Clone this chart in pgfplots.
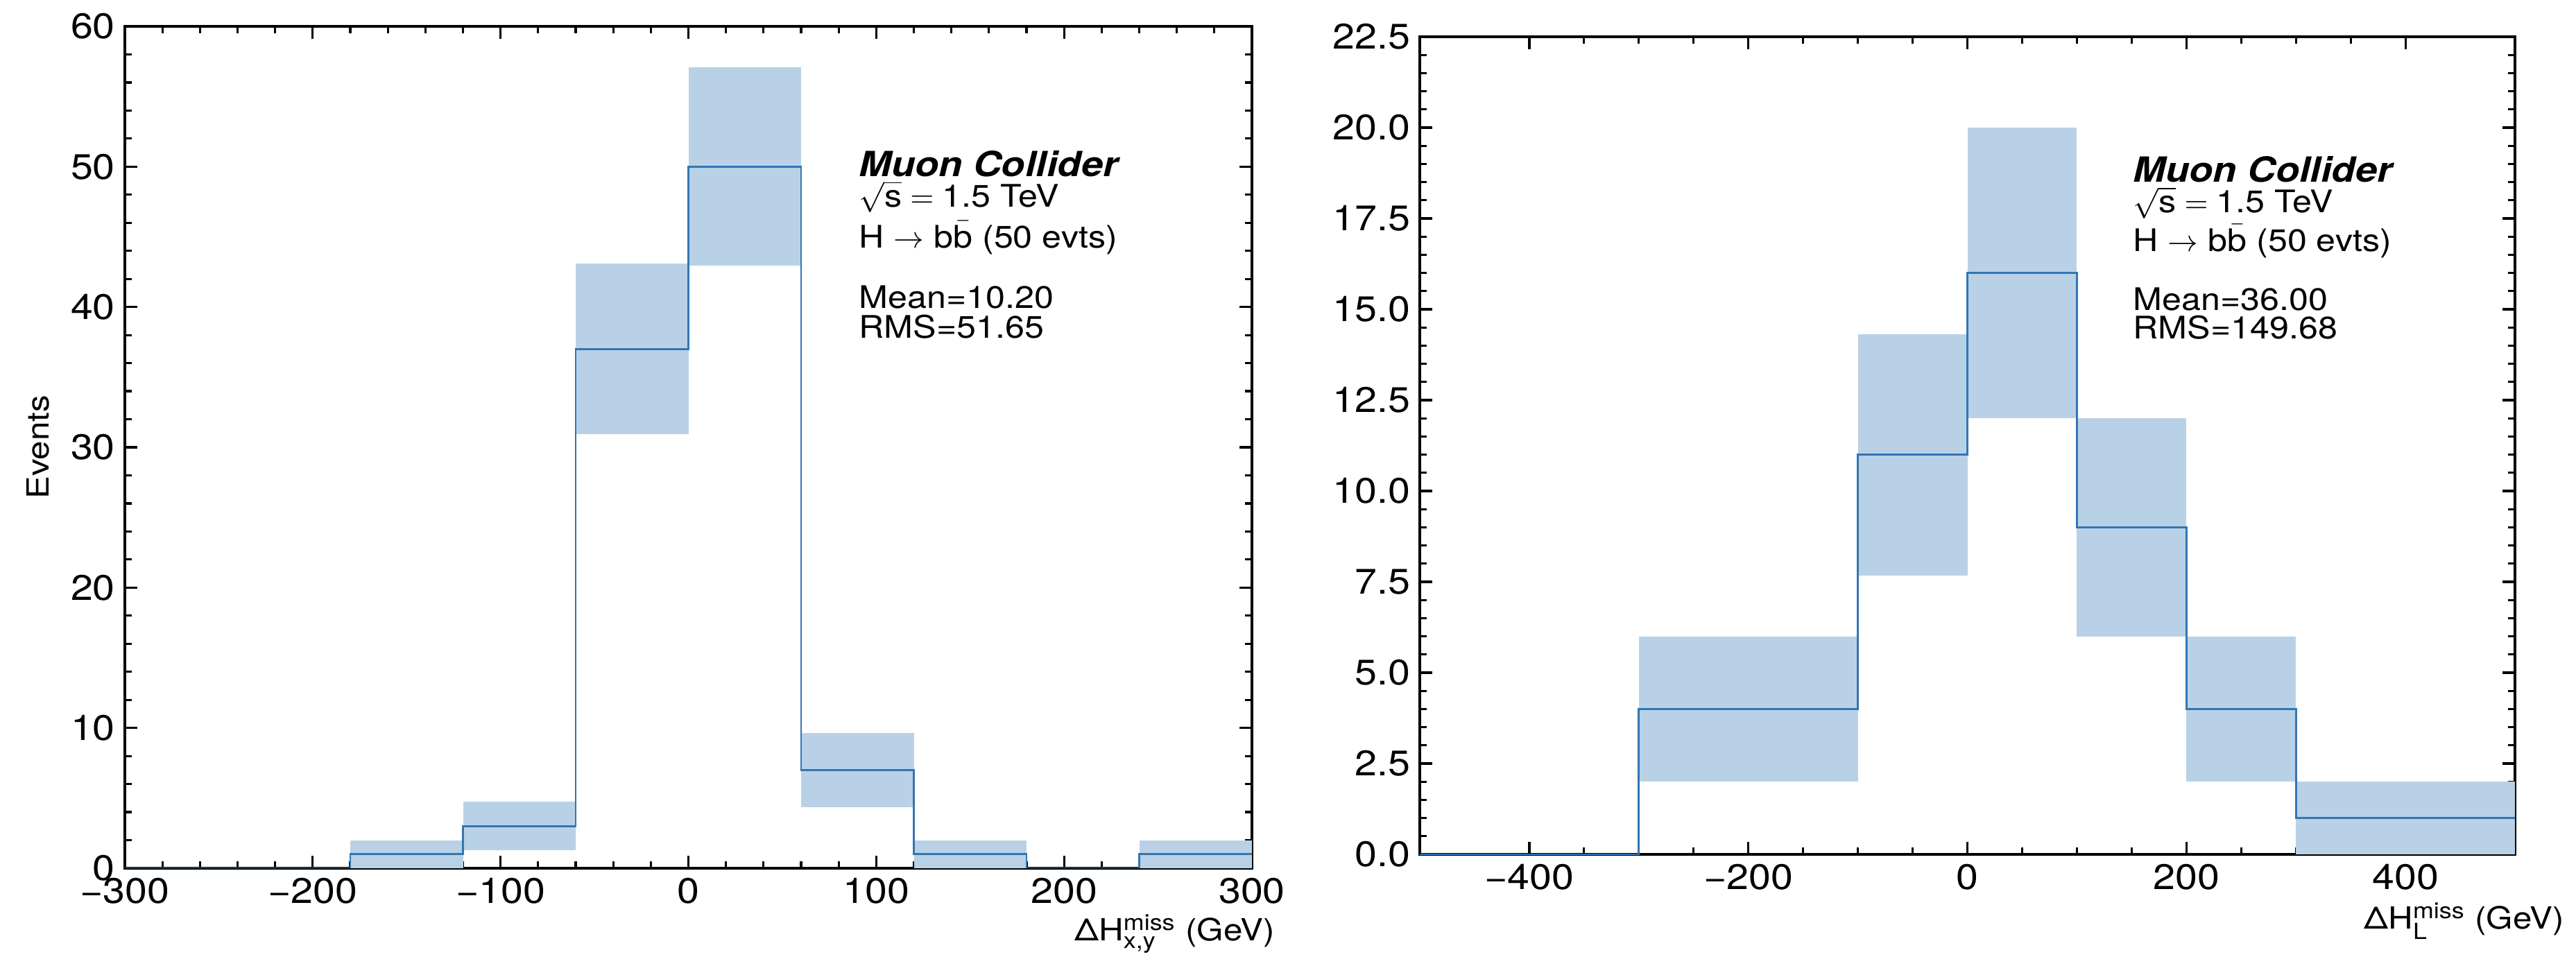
\documentclass[border=0pt]{standalone}
\usepackage{fontspec}
\setmainfont[FakeStretch=1.12]{TeX Gyre Heros}
\usepackage{pgfplots}
\pgfplotsset{compat=1.18}

\definecolor{band}{RGB}{185,209,230}
\definecolor{stepblue}{RGB}{50,118,178}

\newcommand{\scr}[1]{\hbox{\fontsize{8}{9}\selectfont #1}}

\pgfplotsset{
  hep/.style={
    scale only axis,
    anchor=south west,
    tick align=inside,
    xtick pos=both, ytick pos=both,
    major tick length=4.5pt,
    minor tick length=2.5pt,
    tick style={black, line width=0.8pt},
    axis line style={line width=1pt},
    tick label style={font=\fontsize{12.8}{14}\selectfont},
    /pgf/number format/assume math mode=true,
    no markers,
  },
  unc/.style={fill=band, draw=none},
  stepline/.style={const plot, draw=stepblue, line width=0.7pt},
}
\tikzset{
  infotext/.style={anchor=base west, inner sep=0pt, font=\fontsize{11.2}{13}\selectfont},
  exptext/.style={anchor=base west, inner sep=0pt, font=\fontsize{12.5}{14}\selectfont\bfseries\itshape},
}

\begin{document}
\begin{tikzpicture}
\useasboundingbox (0,0) rectangle (928.5pt,345pt);

% transverse missing-momentum resolution
\begin{axis}[hep,
  at={(45pt,32pt)}, width=406.25pt, height=303.5pt,
  xmin=-300, xmax=300, ymin=0, ymax=60,
  xtick={-300,-200,-100,0,100,200,300},
  xticklabels={−300,−200,−100,0,100,200,300},
  minor x tick num=4,
  ytick={0,10,20,30,40,50,60},
  minor y tick num=4,
  ylabel={Events},
  ylabel style={at={(axis description cs:-0.077,0.5)}, anchor=center, font=\fontsize{11}{13}\selectfont},
  xlabel={ΔH$^{\scr{miss}}_{\scr{x,y}}$ (GeV)},
  xlabel style={at={(axis description cs:1.029,0)}, anchor=base east, yshift=-26.25pt, font=\fontsize{11}{13}\selectfont},
]
% sqrt(N) bands per bin
\addplot[unc] coordinates {(-180,0) (-120,0) (-120,2) (-180,2)} -- cycle;
\addplot[unc] coordinates {(-120,1.27) (-60,1.27) (-60,4.73) (-120,4.73)} -- cycle;
\addplot[unc] coordinates {(-60,30.92) (0,30.92) (0,43.08) (-60,43.08)} -- cycle;
\addplot[unc] coordinates {(0,42.93) (60,42.93) (60,57.07) (0,57.07)} -- cycle;
\addplot[unc] coordinates {(60,4.35) (120,4.35) (120,9.65) (60,9.65)} -- cycle;
\addplot[unc] coordinates {(120,0) (180,0) (180,2) (120,2)} -- cycle;
\addplot[unc] coordinates {(240,0) (300,0) (300,2) (240,2)} -- cycle;
% bin contents
\addplot[stepline] coordinates {
  (-300,0) (-240,0) (-180,1) (-120,3) (-60,37) (0,50) (60,7) (120,1) (180,0) (240,1) (300,1)};
\node[exptext] at (rel axis cs:0.651,0.8213) {Muon Collider};
\node[infotext] at (rel axis cs:0.651,0.7858) {$\sqrt{\hbox{s}} = \hbox{1.5 TeV}$};
\node[infotext] at (rel axis cs:0.651,0.7372) {H $\rightarrow$ b$\bar{\hbox{b}}$ (50 evts)};
\node[infotext] at (rel axis cs:0.651,0.6648) {Mean=10.20};
\node[infotext] at (rel axis cs:0.651,0.6301) {RMS=51.65};
\end{axis}

% longitudinal missing-momentum resolution
\begin{axis}[hep,
  at={(511.75pt,37pt)}, width=394.75pt, height=294.75pt,
  xmin=-500, xmax=500, ymin=0, ymax=22.5,
  xtick={-400,-200,0,200,400},
  xticklabels={−400,−200,0,200,400},
  minor x tick num=3,
  ytick={0,2.5,5,7.5,10,12.5,15,17.5,20,22.5},
  minor y tick num=4,
  yticklabel style={/pgf/number format/.cd, fixed, fixed zerofill, precision=1},
  xlabel={ΔH$^{\scr{miss}}_{\scr{L}}$ (GeV)},
  xlabel style={at={(axis description cs:1.054,0)}, anchor=base east, yshift=-27pt, font=\fontsize{11}{13}\selectfont},
]
\addplot[unc] coordinates {(-300,2) (-100,2) (-100,6) (-300,6)} -- cycle;
\addplot[unc] coordinates {(-100,7.68) (0,7.68) (0,14.32) (-100,14.32)} -- cycle;
\addplot[unc] coordinates {(0,12) (100,12) (100,20) (0,20)} -- cycle;
\addplot[unc] coordinates {(100,6) (200,6) (200,12) (100,12)} -- cycle;
\addplot[unc] coordinates {(200,2) (300,2) (300,6) (200,6)} -- cycle;
\addplot[unc] coordinates {(300,0) (500,0) (500,2) (300,2)} -- cycle;
\addplot[stepline] coordinates {
  (-500,0) (-300,4) (-100,11) (0,16) (100,9) (200,4) (300,1) (500,1)};
\node[exptext] at (rel axis cs:0.651,0.8219) {Muon Collider};
\node[infotext] at (rel axis cs:0.651,0.7846) {$\sqrt{\hbox{s}} = \hbox{1.5 TeV}$};
\node[infotext] at (rel axis cs:0.651,0.7379) {H $\rightarrow$ b$\bar{\hbox{b}}$ (50 evts)};
\node[infotext] at (rel axis cs:0.651,0.665) {Mean=36.00};
\node[infotext] at (rel axis cs:0.651,0.631) {RMS=149.68};
\end{axis}
\end{tikzpicture}
\end{document}
